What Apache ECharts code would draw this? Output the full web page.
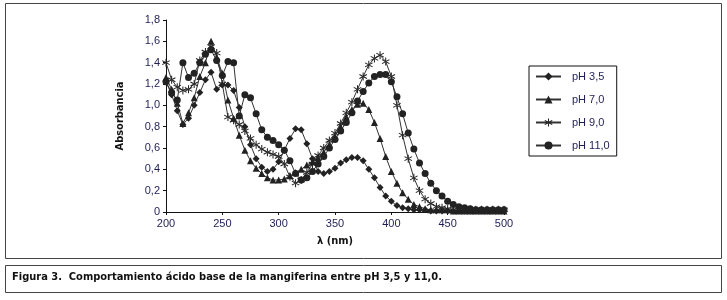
<!DOCTYPE html>
<html>
<head>
<meta charset="utf-8">
<script src="https://cdn.jsdelivr.net/npm/echarts@6/dist/echarts.min.js"></script>
<style>
  html, body { margin: 0; padding: 0; background: #fff; }
  #chart { width: 727px; height: 300px; }
</style>
</head>
<body>
<div id="chart"></div>
<script>
// longitudes de onda (nm), cada 5 nm
var wavelengths = [];
for (var w = 200; w <= 500; w += 5) wavelengths.push(w);

var seriesNames = ['pH 3,5', 'pH 7,0', 'pH 9,0', 'pH 11,0'];

var ph35 = [1.22, 1.10, 0.95, 0.82, 0.88, 1.00, 1.12, 1.24, 1.31, 1.15,
            1.19, 1.19, 1.14, 0.98, 0.80, 0.63, 0.50, 0.42, 0.38, 0.40,
            0.47, 0.58, 0.69, 0.78, 0.77, 0.64, 0.50, 0.38, 0.36, 0.38,
            0.41, 0.46, 0.49, 0.51, 0.51, 0.48, 0.40, 0.32, 0.23, 0.15,
            0.10, 0.06, 0.04, 0.03, 0.02, 0.02, 0.02, 0.01, 0.01, 0.01,
            0.01, 0.01, 0.01, 0.01, 0.01, 0.01, 0.01, 0.01, 0.01, 0.01, 0.01];

var ph70 = [1.26, 1.15, 1.02, 0.83, 0.93, 1.07, 1.27, 1.40, 1.60, 1.45,
            1.30, 1.05, 0.88, 0.72, 0.58, 0.48, 0.41, 0.36, 0.32, 0.30,
            0.30, 0.31, 0.34, 0.37, 0.40, 0.44, 0.47, 0.51, 0.56, 0.63,
            0.71, 0.80, 0.89, 0.96, 1.01, 1.02, 0.96, 0.84, 0.69, 0.52,
            0.38, 0.27, 0.18, 0.12, 0.07, 0.05, 0.03, 0.02, 0.02, 0.02,
            0.02, 0.01, 0.01, 0.01, 0.01, 0.01, 0.01, 0.01, 0.01, 0.01, 0.01];

var ph90 = [1.40, 1.24, 1.17, 1.14, 1.15, 1.20, 1.42, 1.50, 1.55, 1.49,
            1.20, 0.89, 0.86, 0.82, 0.76, 0.69, 0.63, 0.59, 0.56, 0.54,
            0.52, 0.45, 0.33, 0.27, 0.30, 0.37, 0.45, 0.53, 0.60, 0.67,
            0.74, 0.83, 0.93, 1.03, 1.15, 1.27, 1.38, 1.44, 1.47, 1.41,
            1.27, 1.00, 0.72, 0.50, 0.32, 0.20, 0.12, 0.08, 0.05, 0.04,
            0.03, 0.02, 0.02, 0.02, 0.02, 0.02, 0.02, 0.02, 0.02, 0.02, 0.02];

var ph110 = [1.22, 1.12, 1.05, 1.40, 1.26, 1.30, 1.40, 1.48, 1.52, 1.42,
             1.28, 1.41, 1.40, 0.90, 1.10, 1.07, 0.92, 0.77, 0.70, 0.67,
             0.63, 0.58, 0.48, 0.36, 0.30, 0.32, 0.38, 0.45, 0.52, 0.60,
             0.68, 0.76, 0.84, 0.93, 1.04, 1.13, 1.21, 1.27, 1.29, 1.29,
             1.22, 1.08, 0.92, 0.74, 0.59, 0.46, 0.36, 0.27, 0.20, 0.15,
             0.10, 0.07, 0.05, 0.04, 0.03, 0.02, 0.02, 0.02, 0.02, 0.02, 0.02];

var yTicks = [0, 0.2, 0.4, 0.6, 0.8, 1.0, 1.2, 1.4, 1.6, 1.8];
var xTicks = [200, 250, 300, 350, 400, 450, 500];

function pairs(vals) {
  return wavelengths.map(function (x, i) { return [x, vals[i]]; });
}

// asterisco: tres barras finas
var starPath = 'path://M-0.12,-1L0.12,-1L0.12,1L-0.12,1Z' +
  'M0.806,0.604L0.926,0.396L-0.806,-0.604L-0.926,-0.396Z' +
  'M0.926,-0.396L0.806,-0.604L-0.926,0.396L-0.806,0.604Z';

var symbols = ['diamond', 'triangle', starPath, 'circle'];
var sizes = [7, 7, 8, 7];
var values = [ph35, ph70, ph90, ph110];

var chart = echarts.init(document.getElementById('chart'));
chart.setOption({
  animation: false,
  backgroundColor: '#fff',
  graphic: [
    { type: 'rect', shape: { x: 5.5, y: 3.5, width: 716, height: 255 },
      style: { fill: 'none', stroke: '#444', lineWidth: 1 } },
    { type: 'rect', shape: { x: 5.5, y: 265.5, width: 716, height: 27 },
      style: { fill: 'none', stroke: '#444', lineWidth: 1 } },
    { type: 'text', left: 12, top: 272,
      style: { text: 'Figura 3.  Comportamiento ácido base de la mangiferina entre pH 3,5 y 11,0.',
               font: 'bold 11px "Liberation Sans Narrow", "DejaVu Sans Condensed", sans-serif',
               fill: '#111' } }
  ],
  grid: { left: 166, right: 223, top: 20, bottom: 88 },
  legend: {
    orient: 'vertical',
    left: 529, top: 66,
    padding: [5, 7, 5, 6],
    borderColor: '#111', borderWidth: 1,
    itemWidth: 25, itemHeight: 10, itemGap: 12,
    textStyle: { fontFamily: 'Arial, sans-serif', fontSize: 11, color: '#1f1f55',
                 padding: [0, 0, 0, 6] },
    data: seriesNames
  },
  xAxis: {
    type: 'value', min: 200, max: 500, interval: 50,
    name: 'λ (nm)', nameLocation: 'middle', nameGap: 24,
    nameTextStyle: { fontFamily: '"Liberation Sans Narrow", "DejaVu Sans Condensed", sans-serif',
                     fontWeight: 'bold', fontSize: 11, color: '#111' },
    axisLine: { lineStyle: { color: '#111', width: 1 } },
    axisTick: { show: true, length: 3, lineStyle: { color: '#111' } },
    axisLabel: { margin: 6, fontFamily: 'Arial, sans-serif', fontSize: 11, color: '#1f1f55',
                 formatter: function (v) { return xTicks.indexOf(v) >= 0 ? String(v) : ''; } },
    splitLine: { show: false }
  },
  yAxis: {
    type: 'value', min: 0, max: 1.8, interval: 0.2,
    name: 'Absorbancia', nameLocation: 'middle', nameGap: 40, nameRotate: 90,
    nameTextStyle: { fontFamily: '"Liberation Sans Narrow", "DejaVu Sans Condensed", sans-serif',
                     fontWeight: 'bold', fontSize: 11, color: '#111' },
    axisLine: { show: true, lineStyle: { color: '#111', width: 1 } },
    axisTick: { show: true, length: 3, lineStyle: { color: '#111' } },
    axisLabel: { margin: 6, fontFamily: 'Arial, sans-serif', fontSize: 11, color: '#1f1f55',
                 formatter: function (v) {
                   var t = yTicks.filter(function (k) { return Math.abs(k - v) < 1e-6; });
                   if (!t.length) return '';
                   return v === 0 ? '0' : v.toFixed(1).replace('.', ',');
                 } },
    splitLine: { show: false }
  },
  series: seriesNames.map(function (name, i) {
    return {
      name: name,
      type: 'line',
      data: pairs(values[i]),
      symbol: symbols[i],
      symbolSize: sizes[i],
      showAllSymbol: true,
      lineStyle: { color: '#333', width: 1 },
      itemStyle: { color: '#222', borderColor: '#222', borderWidth: 0 }
    };
  })
});
</script>
</body>
</html>
